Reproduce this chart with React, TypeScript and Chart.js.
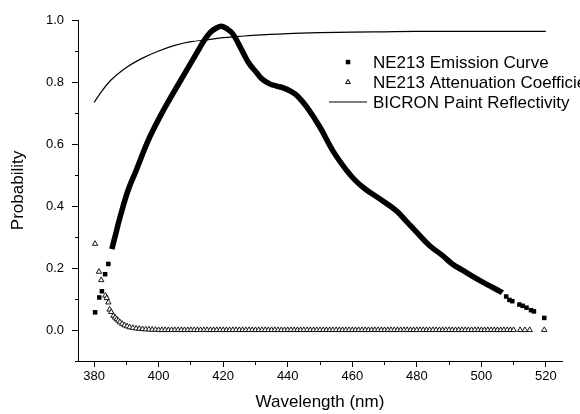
import React, { useEffect, useRef } from 'react';
import { Chart, registerables } from 'chart.js';

Chart.register(...registerables);

const FONT = "Arial, 'Liberation Sans', Helvetica, sans-serif";

const xTitle = 'Wavelength (nm)';
const yTitle = 'Probability';
const xMin = 375;
const xMax = 525;
const yMin = -0.1;
const yMax = 1.0;

const legendLabels = [
  'NE213 Emission Curve',
  'NE213 Attenuation Coefficient',
  'BICRON Paint Reflectivity',
];

// NE213 emission curve (dense square markers)
const emissionWl = [
  380.3, 381.6, 382.4, 383.4, 384.4, 385.5, 386.5, 388, 390.5, 393,
  396.7, 400, 404, 408, 412, 414, 416, 418, 419.5,
  421, 423, 426, 428, 430.3, 432, 434.4, 436.5, 438.6, 441,
  443, 446, 450, 454, 458.3, 461, 464, 468.5, 473.6, 477,
  480, 484, 488, 491, 494, 497.3, 500, 502.5, 505, 506.5,
  507.7, 508.7, 509.6, 511.8, 512.8, 514, 515.4, 516.3, 519.5,
];
const emissionVal = [
  0.057, 0.105, 0.125, 0.18, 0.213, 0.261, 0.302, 0.363, 0.45, 0.514,
  0.61, 0.68, 0.755, 0.826, 0.897, 0.932, 0.96, 0.975, 0.98,
  0.973, 0.955, 0.898, 0.86, 0.831, 0.81, 0.794, 0.787, 0.781, 0.77,
  0.755, 0.718, 0.654, 0.578, 0.514, 0.482, 0.455, 0.423, 0.385, 0.348,
  0.315, 0.272, 0.24, 0.213, 0.194, 0.173, 0.157, 0.143, 0.129, 0.12,
  0.108, 0.097, 0.093, 0.082, 0.078, 0.072, 0.064, 0.06, 0.039,
];

// NE213 attenuation coefficient (open triangles)
const attWl = [
  380.3, 381.5, 382.2, 383.5, 383.9, 384.4, 384.8, 385.3, 386, 386.5,
  387, 387.5, 388, 388.7, 389.4, 390.2, 391, 392, 393, 394,
  395, 396, 397, 398, 399,
  400, 401, 402, 403, 404, 405, 406, 407, 408, 409,
  410, 411, 412, 413, 414, 415, 416, 417, 418, 419,
  420, 421, 422, 423, 424, 425, 426, 427, 428, 429,
  430, 431, 432, 433, 434, 435, 436, 437, 438, 439,
  440, 441, 442, 443, 444, 445, 446, 447, 448, 449,
  450, 451, 452, 453, 454, 455, 456, 457, 458, 459,
  460, 461, 462, 463, 464, 465, 466, 467, 468, 469,
  470, 471, 472, 473, 474, 475, 476, 477, 478, 479,
  480, 481, 482, 483, 484, 485, 486, 487, 488, 489,
  490, 491, 492, 493, 494, 495, 496, 497, 498, 499,
  500, 501, 502, 503, 504, 505, 506, 507, 508, 509,
  510, 512, 513.5, 515, 519.5,
];
const attVal = [
  0.278, 0.188, 0.161, 0.111, 0.103, 0.089, 0.066, 0.058, 0.046, 0.04,
  0.035, 0.03, 0.025, 0.02, 0.015, 0.012, 0.009, 0.007, 0.005, 0.004,
  0.003, 0.002, 0.002, 0.001, 0.001,
  0, 0, 0, 0, 0, 0, 0, 0, 0, 0,
  0, 0, 0, 0, 0, 0, 0, 0, 0, 0,
  0, 0, 0, 0, 0, 0, 0, 0, 0, 0,
  0, 0, 0, 0, 0, 0, 0, 0, 0, 0,
  0, 0, 0, 0, 0, 0, 0, 0, 0, 0,
  0, 0, 0, 0, 0, 0, 0, 0, 0, 0,
  0, 0, 0, 0, 0, 0, 0, 0, 0, 0,
  0, 0, 0, 0, 0, 0, 0, 0, 0, 0,
  0, 0, 0, 0, 0, 0, 0, 0, 0, 0,
  0, 0, 0, 0, 0, 0, 0, 0, 0, 0,
  0, 0, 0, 0, 0, 0, 0, 0, 0, 0,
  0, 0, 0, 0, 0,
];

// BICRON paint reflectivity (thin line)
const bicronWl = [380, 382, 385, 390, 395, 400, 405, 410, 415, 420, 425, 430, 440, 450, 460, 470, 480, 500, 520];
const bicronVal = [0.734, 0.765, 0.804, 0.847, 0.877, 0.9, 0.918, 0.93, 0.936, 0.943, 0.947, 0.951, 0.956, 0.959, 0.961, 0.962, 0.963, 0.963, 0.963];

const sparseLow = 385.4;
const sparseHigh = 506.6;

const legendPlugin = {
  id: 'refLegend',
  afterDraw(chart: any) {
    const ctx = chart.ctx as CanvasRenderingContext2D;
    ctx.save();
    const rows = [62, 82, 102];
    const mx = 348;
    ctx.fillStyle = '#000';
    ctx.fillRect(mx - 2.2, rows[0] - 2.2, 4.5, 4.5);
    ctx.beginPath();
    ctx.moveTo(mx, rows[1] - 2.6);
    ctx.lineTo(mx + 2.4, rows[1] + 1.6);
    ctx.lineTo(mx - 2.4, rows[1] + 1.6);
    ctx.closePath();
    ctx.fillStyle = '#fff';
    ctx.fill();
    ctx.strokeStyle = '#000';
    ctx.lineWidth = 1;
    ctx.stroke();
    ctx.beginPath();
    ctx.moveTo(329, rows[2]);
    ctx.lineTo(367, rows[2]);
    ctx.lineWidth = 1.2;
    ctx.stroke();
    ctx.fillStyle = '#000';
    ctx.font = `17px ${FONT}`;
    ctx.textBaseline = 'middle';
    ctx.textAlign = 'left';
    legendLabels.forEach((t, i) => ctx.fillText(t, 373, rows[i] + 1));
    ctx.restore();
  },
};

export default function App() {
  const ref = useRef<HTMLCanvasElement>(null);
  useEffect(() => {
    if (!ref.current) return;
    const chart = new Chart(ref.current, {
      type: 'scatter',
      data: {
        datasets: [
          {
            label: legendLabels[2],
            data: bicronWl.map((x, i) => ({ x, y: bicronVal[i] })),
            showLine: true,
            borderColor: '#000',
            borderWidth: 1.2,
            pointRadius: 0,
            cubicInterpolationMode: 'monotone',
            order: 3,
          } as any,
          {
            label: legendLabels[0],
            data: emissionWl.map((x, i) => ({ x, y: emissionVal[i] })),
            showLine: true,
            borderColor: '#000',
            backgroundColor: '#000',
            borderWidth: 5.5,
            tension: 0.4,
            borderJoinStyle: 'round',
            pointStyle: 'rect',
            pointRadius: (c: any) => {
              const x = emissionWl[c.dataIndex];
              return x < sparseLow || x > sparseHigh ? 3.2 : 0;
            },
            pointBorderWidth: 0,
            segment: {
              borderColor: (c: any) =>
                c.p0.parsed.x < sparseLow || c.p1.parsed.x > sparseHigh ? 'rgba(0,0,0,0)' : '#000',
            },
            order: 2,
          } as any,
          {
            label: legendLabels[1],
            data: attWl.map((x, i) => ({ x, y: attVal[i] })),
            showLine: false,
            pointStyle: 'triangle',
            pointRadius: 3.1,
            pointBorderWidth: 0.9,
            borderColor: '#000',
            backgroundColor: '#fff',
            order: 1,
          } as any,
        ],
      },
      options: {
        animation: false,
        responsive: false,
        devicePixelRatio: 1,
        layout: { padding: { top: 20, right: 18, left: 0, bottom: 0 } },
        plugins: { legend: { display: false }, tooltip: { enabled: false } },
        scales: {
          x: {
            type: 'linear',
            min: xMin,
            max: xMax,
            border: { display: true, color: '#000', width: 1 },
            grid: {
              drawOnChartArea: false,
              drawTicks: true,
              tickLength: 6,
              tickWidth: 1,
              tickColor: (c: any) => {
                const v = Math.round(c.tick?.value ?? 0);
                return v % 10 === 0 ? '#000' : 'rgba(0,0,0,0)';
              },
              tickBorderDash: (c: any) => {
                const v = Math.round(c.tick?.value ?? 0);
                return v % 20 === 0 ? [] : [3, 20];
              },
            },
            ticks: {
              stepSize: 5,
              autoSkip: false,
              maxRotation: 0,
              padding: 2,
              color: '#000',
              font: { family: FONT, size: 13 },
              callback: (v: any) => {
                const r = Math.round(Number(v));
                return r % 20 === 0 ? String(r) : '';
              },
            },
            title: {
              display: true,
              text: xTitle,
              color: '#000',
              font: { family: FONT, size: 17 },
              padding: { top: 0, bottom: 1 },
            },
            afterFit: (s: any) => {
              s.height = 53;
            },
          },
          y: {
            type: 'linear',
            min: yMin,
            max: yMax,
            border: { display: true, color: '#000', width: 1 },
            grid: {
              drawOnChartArea: false,
              drawTicks: true,
              tickLength: 6,
              tickWidth: 1,
              tickColor: '#000',
              tickBorderDash: (c: any) => {
                const k = Math.round((c.tick?.value ?? 0) * 10);
                return k >= 0 && k % 2 === 0 ? [] : [0, 3, 3, 20];
              },
            },
            ticks: {
              stepSize: 0.1,
              autoSkip: false,
              padding: 8,
              color: '#000',
              font: { family: FONT, size: 13 },
              callback: (v: any) => {
                const k = Math.round(Number(v) * 10);
                return k >= 0 && k % 2 === 0 ? (k / 10).toFixed(1) : '';
              },
            },
            title: {
              display: true,
              text: yTitle,
              color: '#000',
              font: { family: FONT, size: 17 },
              padding: { top: 8, bottom: 0 },
            },
            afterFit: (s: any) => {
              s.width = 78;
            },
          },
        },
      },
      plugins: [legendPlugin],
    });
    return () => chart.destroy();
  }, []);
  return (
    <div style={{ position: 'absolute', left: 0, top: 0, width: 580, height: 414, background: '#fff' }}>
      <canvas ref={ref} width={580} height={414} style={{ display: 'block' }} />
    </div>
  );
}
